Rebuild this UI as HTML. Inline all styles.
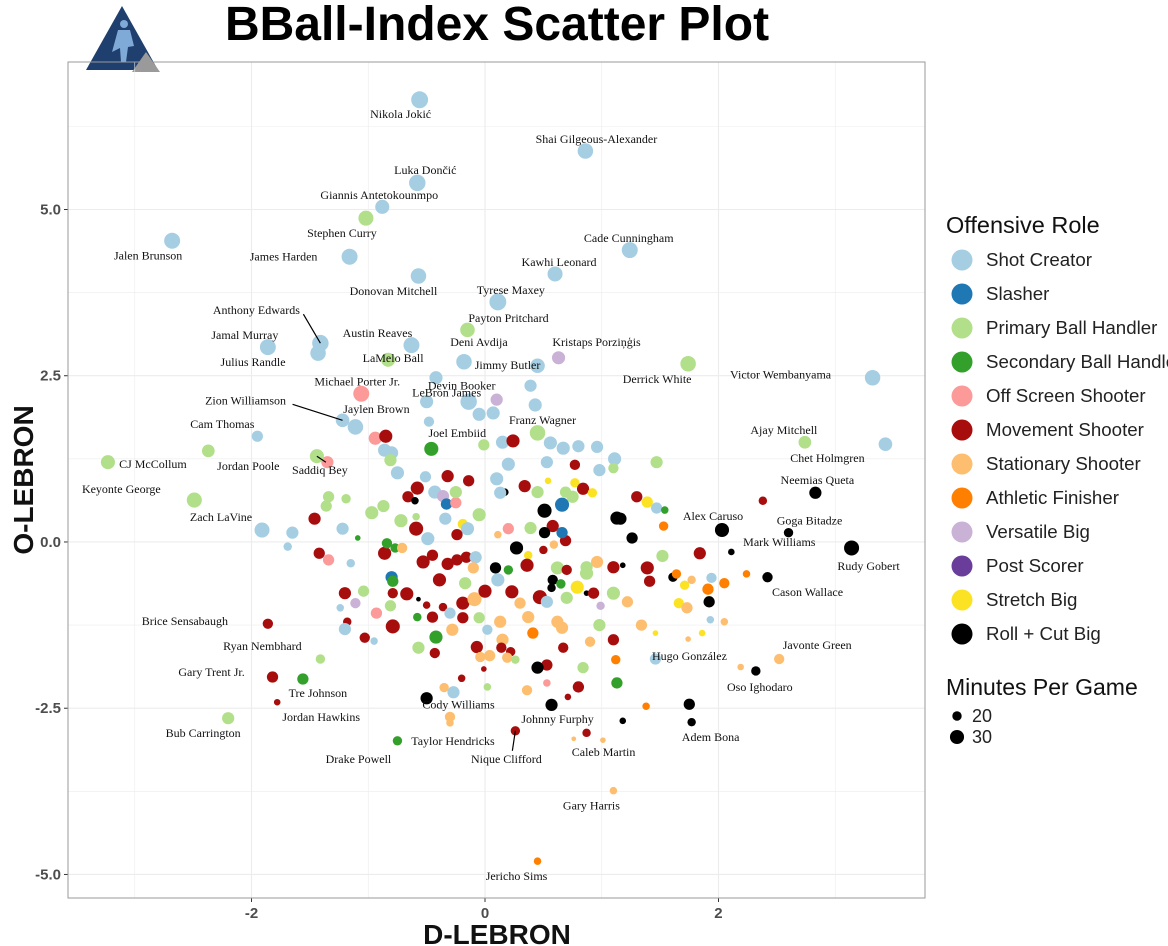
<!DOCTYPE html>
<html><head><meta charset="utf-8"><style>
html,body{margin:0;padding:0;background:#fff;}
svg{display:block;}
</style></head><body>
<svg id="chart" width="1168" height="946" viewBox="0 0 1168 946" xmlns="http://www.w3.org/2000/svg">
<defs><clipPath id="panelClip"><rect x="68" y="62" width="857" height="836"/></clipPath></defs>
<g>
<polygon points="122,6 158,70 86,70" fill="#1f3f6e"/>
<polygon points="146,52 160,72 132,72" fill="#9a9a9a"/>
<circle cx="124" cy="24" r="4" fill="#7fa9d6"/>
<path d="M118 30 L130 30 L134 46 L128 47 L126 62 L121 62 L120 48 L112 52 Z" fill="#7fa9d6"/>
</g>
<text x="497" y="40" text-anchor="middle" font-family="Liberation Sans, sans-serif" font-weight="bold" font-size="48" fill="#000">BBall-Index Scatter Plot</text>
<g id="grid" clip-path="url(#panelClip)"></g>
<g id="axes"></g>
<g id="points"></g>
<g id="labels"></g>
<rect x="68" y="62" width="857" height="836" fill="none" stroke="#9a9a9a" stroke-width="1"/>
<g id="legend"></g>
<text x="497" y="944" text-anchor="middle" font-family="Liberation Sans, sans-serif" font-weight="bold" font-size="28" fill="#111">D-LEBRON</text>
<text transform="translate(33,480) rotate(-90)" text-anchor="middle" font-family="Liberation Sans, sans-serif" font-weight="bold" font-size="28" fill="#111">O-LEBRON</text>
</svg>
<script>
const roleNames = ["Shot Creator","Slasher","Primary Ball Handler","Secondary Ball Handler","Off Screen Shooter","Movement Shooter","Stationary Shooter","Athletic Finisher","Versatile Big","Post Scorer","Stretch Big","Roll + Cut Big"];
const roleColors = ["#a6cee3","#1f78b4","#b2df8a","#33a02c","#fb9a99","#a80d0d","#fdbf6f","#ff7f00","#cab2d6","#6a3d9a","#fbe324","#000000"];
const xTicks = [-2,0,2];
const xTickLabels = ["-2","0","2"];
const yTicks = [5,2.5,0,-2.5,-5];
const yTickLabels = ["5.0","2.5","0.0","-2.5","-5.0"];
const sizeLegendValues = [20,30];

const labelNames = ["Nikola Jokić","Shai Gilgeous-Alexander","Luka Dončić","Giannis Antetokounmpo","Stephen Curry","Jalen Brunson","James Harden","Cade Cunningham","Kawhi Leonard","Donovan Mitchell","Tyrese Maxey","Payton Pritchard","Anthony Edwards","Austin Reaves","Jamal Murray","Julius Randle","Deni Avdija","LaMelo Ball","Kristaps Porziņģis","Jimmy Butler","Derrick White","Victor Wembanyama","Michael Porter Jr.","Devin Booker","LeBron James","Zion Williamson","Jaylen Brown","Cam Thomas","Franz Wagner","Joel Embiid","Ajay Mitchell","Chet Holmgren","Saddiq Bey","Jordan Poole","CJ McCollum","Keyonte George","Neemias Queta","Alex Caruso","Goga Bitadze","Mark Williams","Rudy Gobert","Cason Wallace","Zach LaVine","Brice Sensabaugh","Ryan Nembhard","Gary Trent Jr.","Tre Johnson","Jordan Hawkins","Bub Carrington","Drake Powell","Taylor Hendricks","Nique Clifford","Cody Williams","Johnny Furphy","Caleb Martin","Gary Harris","Jericho Sims","Hugo González","Adem Bona","Oso Ighodaro","Javonte Green"];
const labelX = [-0.56,0.86,-0.58,-0.88,-1.02,-2.68,-1.16,1.24,0.60,-0.57,0.11,-0.15,-1.41,-0.63,-1.86,-1.43,-0.18,-0.83,0.63,0.45,1.74,3.32,-1.06,-0.14,-0.50,-1.22,-1.11,-1.95,0.45,-0.46,2.74,3.43,-1.44,-2.37,-3.23,-2.49,2.83,2.03,2.60,2.11,3.14,2.42,-1.91,-1.86,-1.41,-1.82,-1.56,-1.78,-2.20,-0.75,-0.30,0.26,-0.27,0.57,0.87,1.10,0.45,1.46,1.77,2.32,2.52];
const labelY = [6.65,5.88,5.40,5.04,4.87,4.53,4.29,4.39,4.03,4.00,3.61,3.19,2.99,2.96,2.93,2.84,2.71,2.74,2.77,2.65,2.68,2.47,2.23,2.11,2.11,1.83,1.73,1.59,1.64,1.40,1.50,1.47,1.29,1.37,1.20,0.63,0.74,0.18,0.14,-0.15,-0.09,-0.53,0.18,-1.23,-1.76,-2.03,-2.06,-2.41,-2.65,-2.99,-2.63,-2.84,-2.26,-2.45,-2.87,-3.74,-4.80,-1.76,-2.71,-1.94,-1.76];
const labelRole = [0,0,0,0,2,0,0,0,0,0,0,2,0,0,0,0,0,2,8,0,2,0,4,0,0,0,0,0,2,3,2,0,2,2,2,2,11,11,11,11,11,11,0,5,2,5,3,5,2,3,6,5,0,11,5,6,7,0,11,11,6];
const labelMin = [36,33,35,30,32,34,34,34,32,33,36,31,35,34,34,33,33,30,28,31,33,33,34,35,28,29,33,24,33,30,27,29,30,27,30,32,26,30,20,14,32,22,32,22,20,24,24,14,26,20,22,20,26,26,18,16,16,24,18,20,22];
// label offsets (layout, px)
const labelDX = [-19,11,8,-3,-24,-24,-66,-1,4,-25,13,41,-64,-34,-23,-65,15,5,38,-30,-31,-92,-4,-7,20,-97,21,-35,5,26,-21,-58,3,40,45,-73,2,-9,21,48,17,40,-41,-83,-58,-61,15,44,-25,-39,3,-9,5,6,17,-22,-21,34,19,4,38];
const labelDY = [14,-12,-13,-12,15,15,0,-12,-12,15,-12,-12,-33,-12,-12,9,-20,-2,-16,-1,15,-3,-12,-16,-9,-20,-18,-12,-13,-16,-12,14,14,15,2,-11,-13,-14,-12,-10,18,15,-13,-3,-13,-5,14,15,15,18,24,28,12,14,19,15,15,-3,15,16,-14];
const leaderNames = ["Anthony Edwards","Zion Williamson","Saddiq Bey","Nique Clifford"];

const ux = [0.10,0.43,-0.05,0.07,-0.48,-0.94,-0.85,-0.01,0.15,0.24,0.56,0.67,0.80,0.96,1.11,-1.35,-0.86,-0.80,-0.81,-0.75,-0.51,-0.32,-0.14,0.20,0.10,0.53,0.77,0.98,1.10,0.17,0.13,0.34,0.45,0.54,0.77,0.84,0.92,0.75,-0.58,-0.66,-0.60,-0.43,-0.36,-0.33,-0.25,-0.25,-1.34,-1.36,-1.19,-0.97,-0.87,-0.59,-0.72,-1.46,-1.65,-1.22,-1.69,-1.09,-0.59,-0.49,-0.34,-0.05,-0.19,-0.15,-0.24,0.11,0.20,0.27,0.37,0.50,0.58,0.51,0.66,0.69,0.59,0.39,-1.42,-1.34,-1.15,-0.86,-0.84,-0.77,-0.71,-0.53,-0.45,-0.32,-0.24,-0.16,-0.08,-0.10,0.09,0.20,0.36,0.62,0.70,0.87,0.96,1.10,1.13,-0.80,-0.79,-1.20,-1.04,-0.79,-0.67,-0.57,-0.50,-0.39,-0.36,-0.17,-0.19,-0.09,0.00,0.11,0.23,0.30,0.47,0.53,0.58,0.65,0.70,0.79,0.87,0.93,0.99,0.87,1.10,-1.24,-1.11,-0.93,-0.81,-1.18,-1.20,-0.79,-1.03,-0.95,-0.58,-0.45,-0.30,-0.19,-0.05,-0.28,-0.42,-0.57,-0.43,0.02,0.13,0.15,-0.07,-0.04,0.04,0.14,0.22,0.19,0.26,-0.01,-0.20,0.02,-0.35,0.41,0.37,0.62,0.66,0.67,0.90,0.98,1.10,1.12,0.84,0.53,0.45,0.53,0.80,0.71,0.36,1.13,-0.30,-0.50,1.47,1.30,1.39,1.47,1.54,1.53,1.16,1.26,2.38,1.84,1.52,1.39,1.41,1.18,1.61,1.64,1.77,1.71,1.94,1.91,2.05,2.24,1.92,1.66,1.73,1.93,2.05,1.86,1.74,1.46,1.34,1.22,0.57,0.66,0.51,0.69,-0.42,0.39,1.01,0.76,1.18,1.38,2.19,1.75];
const uy = [2.14,2.06,1.92,1.94,1.81,1.56,1.59,1.46,1.50,1.52,1.49,1.41,1.44,1.43,1.25,1.20,1.38,1.34,1.23,1.04,0.98,0.99,0.92,1.17,0.95,1.20,1.16,1.08,1.11,0.75,0.74,0.84,0.75,0.92,0.89,0.80,0.74,0.68,0.81,0.68,0.62,0.75,0.69,0.57,0.59,0.75,0.68,0.54,0.65,0.44,0.54,0.38,0.32,0.35,0.14,0.20,-0.07,0.06,0.20,0.05,0.35,0.41,0.27,0.20,0.11,0.11,0.20,-0.09,-0.20,-0.12,0.24,0.47,0.56,0.02,-0.04,0.21,-0.17,-0.27,-0.32,-0.17,-0.02,-0.09,-0.09,-0.30,-0.20,-0.33,-0.27,-0.23,-0.23,-0.39,-0.39,-0.42,-0.35,-0.39,-0.42,-0.38,-0.30,-0.38,0.36,-0.53,-0.59,-0.77,-0.74,-0.77,-0.78,-0.86,-0.95,-0.57,-0.98,-0.62,-0.92,-0.86,-0.74,-0.57,-0.75,-0.92,-0.83,-0.90,-0.57,-0.63,-0.84,-0.68,-0.77,-0.77,-0.96,-0.47,-0.77,-0.99,-0.92,-1.07,-0.96,-1.20,-1.31,-1.27,-1.44,-1.49,-1.13,-1.13,-1.07,-1.14,-1.14,-1.32,-1.43,-1.59,-1.67,-1.32,-1.20,-1.47,-1.58,-1.73,-1.71,-1.59,-1.65,-1.74,-1.77,-1.91,-2.05,-2.18,-2.19,-1.37,-1.13,-1.20,-1.29,-1.59,-1.50,-1.25,-1.47,-1.77,-1.89,-1.85,-1.89,-2.12,-2.18,-2.33,-2.23,-2.12,-2.72,-2.35,1.20,0.68,0.60,0.51,0.48,0.24,0.35,0.06,0.62,-0.17,-0.21,-0.39,-0.59,-0.35,-0.53,-0.48,-0.57,-0.65,-0.54,-0.71,-0.62,-0.48,-0.90,-0.92,-0.99,-1.17,-1.20,-1.37,-1.46,-1.37,-1.25,-0.90,-0.69,0.14,0.14,0.75,2.47,2.35,-2.98,-2.96,-2.69,-2.47,-1.88,-2.44];
const uRole = [8,0,0,0,0,4,5,2,0,5,0,0,0,0,0,4,0,0,2,0,0,5,5,0,0,0,5,0,2,11,0,5,2,10,10,5,10,2,5,5,11,0,8,1,4,2,2,2,2,2,2,2,2,5,0,0,0,3,5,0,0,2,10,0,5,6,4,11,10,5,5,11,1,5,6,2,5,4,0,5,3,3,6,5,5,5,5,5,0,6,11,3,5,2,5,2,6,5,11,1,3,5,2,5,5,11,5,5,5,2,5,6,5,0,5,6,5,0,11,3,2,10,11,5,8,2,2,0,8,4,2,5,0,5,5,0,3,5,0,5,2,6,3,2,5,0,6,6,5,6,6,5,5,6,2,5,5,2,6,7,6,6,6,5,6,2,5,7,2,5,11,4,5,5,6,3,6,11,2,5,10,0,3,7,11,11,5,5,2,5,5,11,11,7,6,10,0,7,7,7,11,10,6,0,6,10,6,10,6,6,11,1,11,2,0,0,6,6,11,7,6,11];
const uMin = [26,28,28,28,22,28,28,24,28,28,28,28,26,26,28,26,28,28,26,28,24,26,24,28,28,26,22,26,22,16,26,26,26,14,20,26,20,26,28,24,16,28,26,24,24,26,24,24,20,28,26,16,28,26,26,26,18,12,30,28,26,28,22,28,24,16,24,28,18,18,26,30,30,24,18,26,24,24,18,28,22,20,22,28,24,26,24,24,26,24,24,20,28,28,22,26,26,26,28,26,24,26,24,22,28,10,16,28,18,26,28,30,28,28,28,24,30,26,22,20,26,28,12,24,18,28,28,16,22,24,24,18,26,30,22,16,18,24,24,24,24,26,28,26,22,22,26,26,26,22,24,22,20,22,18,12,16,16,20,24,26,26,26,22,22,26,24,20,24,24,26,16,24,14,22,24,16,26,26,24,24,24,16,20,26,24,18,26,26,28,24,12,20,20,18,20,22,24,22,16,24,22,24,16,16,14,12,12,24,24,18,24,24,24,28,26,12,10,14,16,14,24];

const NS = "http://www.w3.org/2000/svg";
const X0 = 68, X1 = 925, Y0 = 62, Y1 = 898;
const xMin = -3.572, xMax = 3.769, yMin = -5.354, yMax = 7.218;
function sx(v){ return X0 + (v - xMin) / (xMax - xMin) * (X1 - X0); }
function sy(v){ return Y1 - (v - yMin) / (yMax - yMin) * (Y1 - Y0); }
function rOf(m){ return m * 0.235; }
function mk(tag, attrs, parent){ const e = document.createElementNS(NS, tag); for (const k in attrs) e.setAttribute(k, attrs[k]); parent.appendChild(e); return e; }

const grid = document.getElementById('grid');
for (let v = -3; v <= 3; v += 1) {
  const g = mk('line', {x1: sx(v), x2: sx(v), y1: Y0, y2: Y1, stroke: '#ececec', 'stroke-width': (v % 2 === 0) ? 1.1 : 0.6}, grid);
  
  
}
for (let v = -5; v <= 7.5; v += 1.25) {
  const g = mk('line', {x1: X0, x2: X1, y1: sy(v), y2: sy(v), stroke: '#ececec', 'stroke-width': (Math.abs(v / 2.5 - Math.round(v / 2.5)) < 1e-6) ? 1.1 : 0.6}, grid);
  
  
}
const axes = document.getElementById('axes');
xTicks.forEach((v, i) => {
  mk('line', {x1: sx(v), x2: sx(v), y1: Y1, y2: Y1 + 4, stroke: '#333'}, axes);
  const t = mk('text', {x: sx(v), y: Y1 + 20, 'text-anchor': 'middle', 'font-family': 'Liberation Sans, sans-serif', 'font-size': 15, 'font-weight': 'bold', fill: '#4d4d4d'}, axes);
  t.textContent = xTickLabels[i];
  
  
});
yTicks.forEach((v, i) => {
  mk('line', {x1: X0 - 4, x2: X0, y1: sy(v), y2: sy(v), stroke: '#333'}, axes);
  const t = mk('text', {x: X0 - 7, y: sy(v) + 5, 'text-anchor': 'end', 'font-family': 'Liberation Sans, sans-serif', 'font-size': 15, 'font-weight': 'bold', fill: '#4d4d4d'}, axes);
  t.textContent = yTickLabels[i];
  
  
});

const pts = document.getElementById('points');
for (let i = 0; i < ux.length; i++) {
  const c = mk('circle', {cx: sx(ux[i]), cy: sy(uy[i]), r: rOf(uMin[i]), fill: roleColors[uRole[i]]}, pts);
  
  
}
const labs = document.getElementById('labels');
for (let i = 0; i < labelNames.length; i++) {
  const px = sx(labelX[i]), py = sy(labelY[i]);
  const c = mk('circle', {cx: px, cy: py, r: rOf(labelMin[i]), fill: roleColors[labelRole[i]]}, pts);
  
  
  const lx = px + labelDX[i], ly = py + labelDY[i];
  if (leaderNames.includes(labelNames[i])) {
    let x1 = lx, y1 = ly;
    if (labelDX[i] < -30) { x1 = lx + 47; y1 = ly + 4; }
    else if (labelDY[i] > 0) { x1 = lx + 6; y1 = ly - 8; }
    else { x1 = lx + 10; y1 = ly + 6; }
    const l = mk('line', {x1: x1, y1: y1, x2: px, y2: py, stroke: '#000', 'stroke-width': 1.2}, labs);
    
    
  }
  const t = mk('text', {x: lx, y: ly + 4, 'text-anchor': 'middle', 'font-family': 'Liberation Serif, serif', 'font-size': 12, fill: '#111'}, labs);
  t.textContent = labelNames[i];
  
  
}

const leg = document.getElementById('legend');
const lt = mk('text', {x: 946, y: 233, 'font-family': 'Liberation Sans, sans-serif', 'font-size': 23.5, fill: '#111'}, leg);
lt.textContent = 'Offensive Role';


roleNames.forEach((n, i) => {
  const y = 260 + i * 34;
  const c = mk('circle', {cx: 962, cy: y, r: 10.5, fill: roleColors[i]}, leg);
  
  
  const t = mk('text', {x: 986, y: y + 6, 'font-family': 'Liberation Sans, sans-serif', 'font-size': 18.7, fill: '#222'}, leg);
  t.textContent = n;
  
  
});
const mt = mk('text', {x: 946, y: 695, 'font-family': 'Liberation Sans, sans-serif', 'font-size': 23, fill: '#111'}, leg);
mt.textContent = 'Minutes Per Game';


sizeLegendValues.forEach((m, i) => {
  const y = 716 + i * 21;
  const c = mk('circle', {cx: 957, cy: y, r: rOf(m), fill: '#000'}, leg);
  
  
  const t = mk('text', {x: 972, y: y + 6, 'font-family': 'Liberation Sans, sans-serif', 'font-size': 18, fill: '#222'}, leg);
  t.textContent = String(m);
  
  
});
</script>
</body></html>
